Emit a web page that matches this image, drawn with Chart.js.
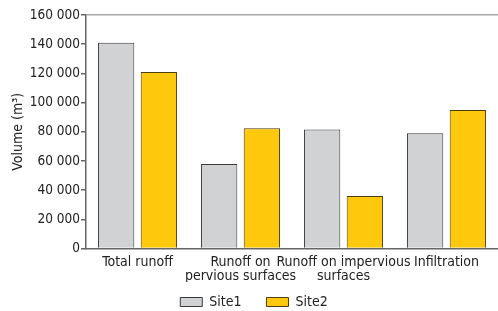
<!DOCTYPE html>
<html>
<head>
<meta charset="utf-8">
<script src="https://cdn.jsdelivr.net/npm/chart.js@4"></script>
<style>
  html, body { margin: 0; padding: 0; background: #fff; }
  #wrap { width: 498px; height: 311px; }
</style>
</head>
<body>
<div id="wrap"><canvas id="chart" width="498" height="311"></canvas></div>
<script>
// data
const categories = [
  'Total runoff',
  ['Runoff on', 'pervious surfaces'],
  ['Runoff on impervious', 'surfaces'],
  'Infiltration'
];
const seriesNames = ['Site1', 'Site2'];
const site1 = [141000, 58000, 81500, 79000];
const site2 = [121000, 82500, 36000, 95000];
const yTicks = [0, 20000, 40000, 60000, 80000, 100000, 120000, 140000, 160000];

const fontFamily = '"DejaVu Sans Condensed", "Liberation Sans Narrow", sans-serif';

function fmt(v) {
  return String(v).replace(/\B(?=(\d{3})+(?!\d))/g, ' ');
}

const ctx = document.getElementById('chart').getContext('2d');
new Chart(ctx, {
  type: 'bar',
  data: {
    labels: categories,
    datasets: [{
      label: seriesNames[0],
      data: site1,
      backgroundColor: '#d1d2d4',
      borderColor: '#3a3a3a',
      borderWidth: 1
    }, {
      label: seriesNames[1],
      data: site2,
      backgroundColor: '#fec90c',
      borderColor: '#4a3d10',
      borderWidth: 1
    }]
  },
  options: {
    responsive: false,
    animation: false,
    layout: { padding: { left: 10, right: 0, top: 15, bottom: -8 } },
    datasets: {
      bar: { categoryPercentage: 0.83, barPercentage: 0.85 }
    },
    plugins: {
      tooltip: { enabled: false },
      legend: {
        position: 'bottom',
        labels: {
          boxWidth: 22,
          boxHeight: 9,
          padding: 13,
          color: '#222',
          font: { family: fontFamily, size: 14 },
          // extra trailing spaces widen the gap between the two items
          generateLabels: chart => Chart.defaults.plugins.legend.labels.generateLabels(chart)
            .map((l, i) => ({ ...l, text: i === 0 ? l.text + '   ' : l.text }))
        }
      }
    },
    scales: {
      x: {
        grid: { display: false },
        border: { color: '#666', width: 1.5 },
        ticks: {
          color: '#222',
          maxRotation: 0,
          autoSkip: false,
          padding: -2,
          font: { family: fontFamily, size: 14, lineHeight: 1.05 }
        }
      },
      y: {
        min: 0,
        max: 160000,
        afterBuildTicks: axis => { axis.ticks = yTicks.map(v => ({ value: v })); },
        grid: {
          color: c => (c.tick && c.tick.value === 160000) ? '#a8a8a8' : 'rgba(0,0,0,0)',
          lineWidth: 1.5,
          drawTicks: true,
          tickLength: 5,
          tickColor: '#666'
        },
        border: { color: '#666', width: 1.5 },
        title: {
          display: true,
          text: 'Volume (m³)',
          color: '#222',
          padding: { top: 0, bottom: 2 },
          font: { family: fontFamily, size: 14 }
        },
        ticks: {
          color: '#222',
          padding: 1,
          font: { family: fontFamily, size: 13.5 },
          callback: v => fmt(v)
        }
      }
    }
  }
});
</script>
</body>
</html>
